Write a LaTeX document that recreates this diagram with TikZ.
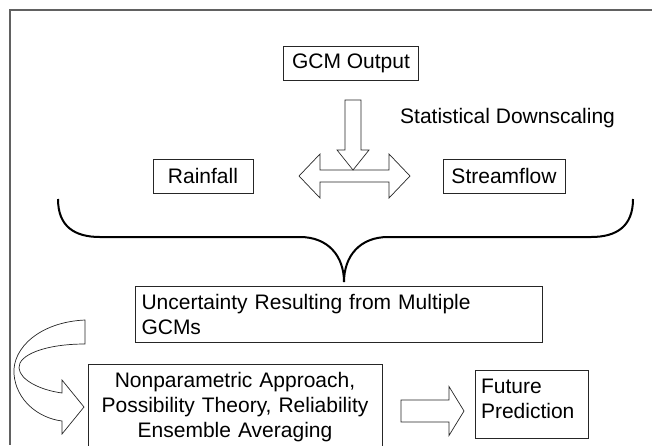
\documentclass[tikz,border=0pt]{standalone}
\usepackage{fontspec}
\setmainfont{Liberation Sans}
\usetikzlibrary{calc}
\usetikzlibrary{positioning}

\tikzset{
	box/.style={draw=black!85, line width=0.8pt, inner sep=0pt, font=\fontsize{21}{25}\selectfont},
	bigarrow/.style={draw=black!85, line width=0.7pt, fill=white, line join=miter},
}

\begin{document}
\begin{tikzpicture}[x=1pt, y=-1pt]
				\useasboundingbox (0,0) rectangle (652,445);
				\draw[line width=1.7pt, black!62] (652,9.7) -- (9.7,9.7) -- (9.7,445);
				
				\node[box, minimum width=135, minimum height=34] (gcm) at (351,63) {GCM Output};
				\node[box, minimum width=100, minimum height=34] (rain) at (203,176) {Rainfall};
				\node[box, minimum width=122, minimum height=34] (stream) at (504,176) {Streamflow};
				\node[font=\fontsize{21}{25}\selectfont, anchor=west, inner sep=0pt] (stat) at (400,118) {Statistical Downscaling};
				\node[box, minimum width=407, minimum height=56, text width=394, align=left] (unc) at (338.5,314) {Uncertainty Resulting from Multiple\\GCMs};
				\node[box, minimum width=294, minimum height=86, text width=290, align=center] (nonp) at (235,407) {Nonparametric Approach,\\Possibility Theory, Reliability\\Ensemble Averaging};
				\node[box, inner xsep=6pt, inner ysep=0pt] (fut) at (531.5,404) {\parbox[c][68pt][t]{101pt}{\rule{0pt}{23pt}Future\\Prediction}};
				
				% double arrow between the two series
				\coordinate (da) at (354.5,176);
				\draw[bigarrow] ($(da)+(-34.5,-6)$) -- ++(69,0) -- ++(0,-16) -- ++(21,22) -- ++(-21,22) -- ++(0,-16) -- ++(-69,0) -- ++(0,16) -- ++(-21,-22) -- ++(21,-22) -- cycle;
				% downscaling arrow
				\coordinate (tip) at ($(da)+(-1.5,-6)$);
				\draw[bigarrow] (tip) -- ++(-16,-20) -- ++(8,0) -- ++(0,-50) -- ++(16,0) -- ++(0,50) -- ++(8,0) -- cycle;
				
				% brace
				\draw[line width=2pt] (58,199) .. controls (58,226) and (74,237) .. (100,237) -- (300,237) .. controls (328,237) and (344,256) .. (344,282);
				\draw[line width=2pt] (633,199) .. controls (633,226) and (617,237) .. (591,237) -- (388,237) .. controls (360,237) and (344,256) .. (344,282);
				
				% curved arrow to the methods
				\draw[bigarrow] (85,320) -- (85,344) .. controls (45,344) and (18,355) .. (19,368) .. controls (20,380) and (40,390) .. (62,393) -- (62,380) -- (84,407) -- (62,434) -- (62,421) .. controls (38,418) and (16,400) .. (14,374) .. controls (12,348) and (40,322) .. (85,320) -- cycle;
				
				% arrow to prediction
				\coordinate (ra) at (401,411);
				\draw[bigarrow] ($(ra)+(0,-11)$) -- ++(48,0) -- ++(0,-13.5) -- ++(15,24.5) -- ++(-15,24.5) -- ++(0,-13.5) -- ++(-48,0) -- cycle;
			\end{tikzpicture}
\end{document}
